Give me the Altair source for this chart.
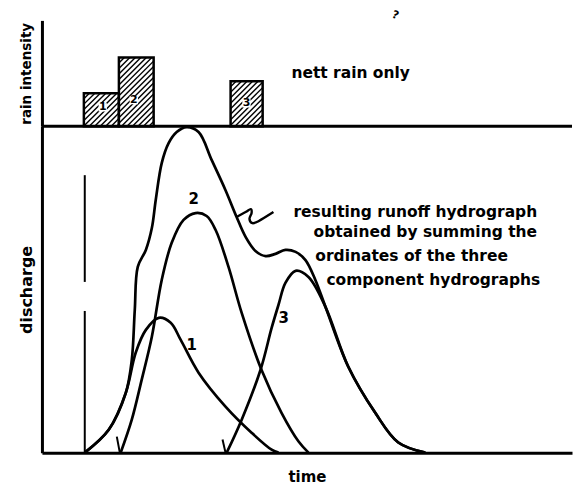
import altair as alt
import pandas as pd

# ---------------- data ----------------
# net rain blocks (time units, intensity units)
rain_start = [1.40, 2.57, 6.30]
rain_end = [2.57, 3.73, 7.37]
rain_int = [1.00, 2.08, 1.36]
rain_id = ["1", "2", "3"]

# component hydrographs (time, discharge)
h1_t = [1.43, 2.23, 2.80, 3.13, 3.47, 3.90, 4.30, 4.63, 5.23, 6.13, 7.00, 7.67, 7.90]
h1_q = [0.00, 0.70, 1.83, 3.06, 3.76, 4.13, 3.98, 3.46, 2.45, 1.41, 0.61, 0.09, 0.00]

h2_t = [2.63, 3.00, 3.33, 3.67, 4.00, 4.33, 4.73, 5.13, 5.50, 5.80, 6.23, 6.67, 7.33, 8.00, 8.57, 8.90]
h2_q = [0.00, 1.01, 2.23, 3.55, 5.29, 6.42, 7.13, 7.34, 7.25, 6.82, 5.69, 4.28, 2.54, 1.22, 0.34, 0.00]

h3_t = [6.17, 6.67, 7.30, 7.67, 7.90, 8.13, 8.47, 8.90, 9.47, 10.23, 11.13, 11.90, 12.80]
h3_q = [0.00, 1.01, 2.54, 3.82, 4.53, 5.20, 5.57, 5.38, 4.46, 2.63, 1.22, 0.31, 0.00]

# resulting runoff hydrograph as drawn
hr_t = [1.43, 2.23, 2.80, 3.00, 3.10, 3.20, 3.47, 3.67, 3.80, 4.00, 4.23, 4.50, 4.83,
        5.23, 5.67, 6.13, 6.50, 6.80, 7.13, 7.47, 7.80, 8.13, 8.47, 8.80, 9.13, 9.47,
        10.23, 11.13, 11.90, 12.80]
hr_q = [0.00, 0.70, 1.83, 2.84, 4.37, 5.69, 6.21, 6.88, 7.74, 8.87, 9.48, 9.82, 9.97,
        9.82, 8.96, 8.04, 7.22, 6.61, 6.18, 6.02, 6.09, 6.21, 6.15, 5.90, 5.29, 4.46,
        2.63, 1.22, 0.31, 0.00]

# pointer squiggle from the note to the resulting hydrograph
sq_t = [6.50, 6.80, 6.97, 7.00, 6.93, 7.03, 7.23, 7.73]
sq_q = [7.22, 7.37, 7.46, 7.34, 7.16, 7.03, 7.09, 7.37]

# stray vertical pen line near the start
vline_t = [1.43, 1.43]
vline_q0 = [5.23, 0.00]
vline_q1 = [8.50, 4.34]

# small pen ticks at the start of hydrographs 2 and 3
tick_t0 = [2.50, 6.03]
tick_q0 = [0.49, 0.40]
tick_t1 = [2.60, 6.13]
tick_q1 = [0.00, 0.00]

curve_labels = ["1", "2", "3"]
curve_label_t = [5.00, 5.07, 8.07]
curve_label_q = [3.30, 7.77, 4.13]

note_lines = ["resulting  runoff hydrograph", "obtained by summing the",
              "ordinates of the three", "component hydrographs"]
note_t = [8.40, 9.07, 9.13, 9.50]
note_q = [7.37, 6.76, 6.02, 5.29]

rain_note = "nett rain only"
speck = "?"

# ---------------- layout constants ----------------
W = 531
H_TOP = 106
H_BOT = 327
T_MAX = 17.7
I_MAX = 3.2
Q_MAX = 10.0
FONT = "DejaVu Sans"

xs = alt.Scale(domain=[0, T_MAX], nice=False, zero=False)
ys_top = alt.Scale(domain=[0, I_MAX], nice=False)
ys_bot = alt.Scale(domain=[0, Q_MAX], nice=False)

ax_top_y = alt.Axis(title="rain intensity", labels=False, ticks=False, grid=False,
                    domainWidth=3, domainColor="black", titleFontSize=13.5, titlePadding=8,
                    titleFont=FONT, titleFontWeight="bold", titleColor="black")
ax_bot_y = alt.Axis(title="discharge", labels=False, ticks=False, grid=False,
                    domainWidth=3, domainColor="black", titleFontSize=16, titlePadding=7,
                    titleFont=FONT, titleFontWeight="bold", titleColor="black")
ax_bot_x = alt.Axis(title="time", labels=False, ticks=False, grid=False,
                    domainWidth=3, domainColor="black", titleFontSize=15, titlePadding=17,
                    titleFont=FONT, titleFontWeight="bold", titleColor="black")


def XT(f):
    return alt.X(f, type="quantitative", scale=xs, axis=None)


def YT(f):
    return alt.Y(f, type="quantitative", scale=ys_top, axis=ax_top_y)


def XB(f):
    return alt.X(f, type="quantitative", scale=xs, axis=ax_bot_x)


def YB(f):
    return alt.Y(f, type="quantitative", scale=ys_bot, axis=ax_bot_y)


# ---------------- top panel: rain ----------------
rain_df = pd.DataFrame({"t0": rain_start, "t1": rain_end, "i": rain_int, "id": rain_id})

# hatch segments inside each block (45 degree lines on screen)
px_t = W / T_MAX
px_i = H_TOP / I_MAX
hatch = []
step = 5.5
for s, e, v in zip(rain_start, rain_end, rain_int):
    x0, x1, y0, y1 = s * px_t, e * px_t, 0.0, v * px_i
    c = x0 - y1
    while c < x1:
        xa = max(x0, y0 + c)
        xb = min(x1, y1 + c)
        if xb > xa:
            hatch.append({"a": xa / px_t, "b": xb / px_t,
                          "ya": (xa - c) / px_i, "yb": (xb - c) / px_i})
        c += step
hatch_df = pd.DataFrame(hatch)

bars = alt.Chart(rain_df).mark_rect(fill="white", stroke="black", strokeWidth=2.5).encode(
    x=XT("t0"), x2="t1:Q", y=YT("i"), y2=alt.datum(0))
hatch_lines = alt.Chart(hatch_df).mark_rule(color="black", strokeWidth=1.4).encode(
    x=XT("a"), x2="b:Q", y=YT("ya"), y2="yb:Q")
baseline = alt.Chart(pd.DataFrame({"z": [0]})).mark_rule(color="black", strokeWidth=3).encode(
    y=YT("z"), x=alt.value(0), x2=alt.value(W))
digit_df = pd.DataFrame({"t": [2.03, 3.07, 6.83], "i": [0.57, 0.79, 0.69], "id": rain_id})
digit_bg = alt.Chart(digit_df).mark_point(shape="square", filled=True, color="white", size=70,
                                          opacity=1).encode(x=XT("t"), y=YT("i"))
digits = alt.Chart(digit_df).mark_text(font=FONT, fontWeight="bold", fontSize=11, color="black").encode(
    x=XT("t"), y=YT("i"), text="id:N")
rain_text = alt.Chart(pd.DataFrame({"t": [8.33], "i": [1.6], "s": [rain_note]})).mark_text(
    font=FONT, fontWeight="bold", fontSize=15.5, align="left", baseline="middle", color="black"
).encode(x=XT("t"), y=YT("i"), text="s:N")
speck_text = alt.Chart(pd.DataFrame({"t": [11.8], "i": [3.35], "s": [speck]})).mark_text(
    font=FONT, fontWeight="bold", fontSize=11, color="black", angle=20
).encode(x=XT("t"), y=YT("i"), text="s:N")

top = alt.layer(bars, hatch_lines, baseline, digit_bg, digits, rain_text, speck_text).properties(
    width=W, height=H_TOP)

# ---------------- bottom panel: hydrographs ----------------
curves = pd.concat([
    pd.DataFrame({"t": h1_t, "q": h1_q, "c": "1"}),
    pd.DataFrame({"t": h2_t, "q": h2_q, "c": "2"}),
    pd.DataFrame({"t": h3_t, "q": h3_q, "c": "3"}),
    pd.DataFrame({"t": hr_t, "q": hr_q, "c": "sum"}),
])

lines = alt.Chart(curves).mark_line(color="black", strokeWidth=2.7, interpolate="catmull-rom").encode(
    x=XB("t"), y=YB("q"), detail="c:N")

sq_df = pd.DataFrame({"t": sq_t, "q": sq_q, "o": list(range(len(sq_t)))})
squiggle = alt.Chart(sq_df).mark_line(color="black", strokeWidth=2.4, interpolate="cardinal").encode(
    x=XB("t"), y=YB("q"), order="o:Q")

vl_df = pd.DataFrame({"t": vline_t, "q0": vline_q0, "q1": vline_q1})
vlines = alt.Chart(vl_df).mark_rule(color="black", strokeWidth=2).encode(
    x=XB("t"), y=YB("q0"), y2="q1:Q")

tk_df = pd.DataFrame({"a": tick_t0, "b": tick_t1, "qa": tick_q0, "qb": tick_q1})
ticks = alt.Chart(tk_df).mark_rule(color="black", strokeWidth=2).encode(
    x=XB("a"), x2="b:Q", y=YB("qa"), y2="qb:Q")

lab_df = pd.DataFrame({"t": curve_label_t, "q": curve_label_q, "s": curve_labels})
labels = alt.Chart(lab_df).mark_text(font=FONT, fontWeight="bold", fontSize=15, color="black").encode(
    x=XB("t"), y=YB("q"), text="s:N")

note_df = pd.DataFrame({"t": note_t, "q": note_q, "s": note_lines})
note = alt.Chart(note_df).mark_text(font=FONT, fontWeight="bold", fontSize=15.5, align="left",
                                    baseline="middle", color="black").encode(
    x=XB("t"), y=YB("q"), text="s:N")

bottom = alt.layer(lines, squiggle, vlines, ticks, labels, note).properties(width=W, height=H_BOT)

chart = alt.vconcat(top, bottom, spacing=0, bounds="flush").properties(
    padding={"left": 11, "top": 0, "right": 0, "bottom": 0},
    background="white",
).configure_view(strokeWidth=0, strokeOpacity=0)

chart.save("out.html", embed_options={"renderer": "svg", "actions": False})
